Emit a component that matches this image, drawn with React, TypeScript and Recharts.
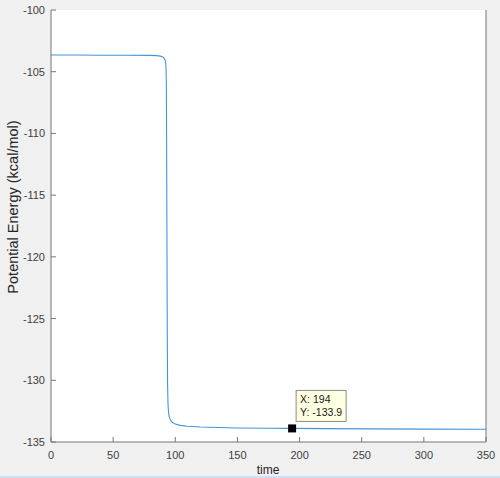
import { LineChart, Line, XAxis, YAxis, CartesianGrid, ReferenceDot } from "recharts";

// sampled from the plot (time vs potential energy)
const time = [
  0, 20, 40, 60, 80, 85, 88, 90, 91, 92, 92.5, 92.8, 93.0, 93.2, 93.4, 93.6,
  93.8, 94.1, 94.5, 95, 96, 97.5, 100, 104, 110, 120, 135, 150, 175, 194, 220,
  260, 300, 350,
];
const energy = [
  -103.65, -103.65, -103.66, -103.67, -103.68, -103.7, -103.74, -103.8, -103.9,
  -104.1, -104.5, -106, -110, -116, -122, -127, -130.3, -131.8, -132.5, -132.9,
  -133.2, -133.4, -133.55, -133.65, -133.72, -133.78, -133.83, -133.86, -133.89,
  -133.9, -133.92, -133.94, -133.96, -133.97,
];
const xTicks = [0, 50, 100, 150, 200, 250, 300, 350];
const yTicks = [-135, -130, -125, -120, -115, -110, -105, -100];
const tipIndex = 29; // datatip at time 194

const data = time.map((t, i) => ({ time: t, energy: energy[i] }));

const AXIS = "#767676";
const LABEL = "#404040";
const FONT = "'Liberation Sans', Arial, sans-serif";

const BottomTick = (p: any) => (
  <g>
    <line x1={p.x} y1={p.y} x2={p.x} y2={p.y - 5} stroke={AXIS} />
    <text x={p.x} y={p.y + 17} textAnchor="middle" fontSize={11} fill={LABEL} fontFamily={FONT}>
      {p.payload.value}
    </text>
  </g>
);
const TopTick = (p: any) => <line x1={p.x} y1={p.y} x2={p.x} y2={p.y + 5} stroke={AXIS} />;
const LeftTick = (p: any) => (
  <g>
    <line x1={p.x} y1={p.y} x2={p.x + 5} y2={p.y} stroke={AXIS} />
    <text x={p.x - 6} y={p.y + 4} textAnchor="end" fontSize={11} fill={LABEL} fontFamily={FONT}>
      {p.payload.value}
    </text>
  </g>
);
const RightTick = (p: any) => <line x1={p.x} y1={p.y} x2={p.x - 5} y2={p.y} stroke={AXIS} />;

const DataTip = (p: any) => {
  const { cx, cy } = p;
  return (
    <g>
      <rect x={cx - 4} y={cy - 4} width={8} height={8} fill="#000" />
      <rect x={cx + 4} y={cy - 38} width={50} height={31} fill="#ffffe1" stroke="#8a8a8a" />
      <text x={cx + 8} y={cy - 25} fontSize={10.5} fill="#1a1a1a" fontFamily={FONT}>
        {`X: ${time[tipIndex]}`}
      </text>
      <text x={cx + 8} y={cy - 12} fontSize={10.5} fill="#1a1a1a" fontFamily={FONT}>
        {`Y: ${energy[tipIndex]}`}
      </text>
    </g>
  );
};

export default function App() {
  return (
    <div
      style={{
        position: "absolute",
        left: 0,
        top: 0,
        width: 500,
        height: 478,
        background: "#f0f0f0",
        fontFamily: FONT,
      }}
    >
      <LineChart width={500} height={478} data={data} margin={{ top: 10, right: 0, left: 0, bottom: 0 }}>
        <CartesianGrid fill="#ffffff" horizontal={false} vertical={false} />
        <XAxis
          dataKey="time"
          type="number"
          domain={[0, 350]}
          ticks={xTicks}
          height={36}
          tickSize={0}
          tickMargin={0}
          stroke={AXIS}
          tick={BottomTick}
          interval={0}
        />
        <XAxis
          xAxisId="top"
          orientation="top"
          dataKey="time"
          type="number"
          domain={[0, 350]}
          ticks={xTicks}
          height={0}
          tickSize={0}
          tickMargin={0}
          stroke={AXIS}
          tick={TopTick}
          interval={0}
        />
        <YAxis
          type="number"
          domain={[-135, -100]}
          ticks={yTicks}
          width={51}
          tickSize={0}
          tickMargin={0}
          stroke={AXIS}
          tick={LeftTick}
          interval={0}
        />
        <YAxis
          yAxisId="right"
          orientation="right"
          type="number"
          domain={[-135, -100]}
          ticks={yTicks}
          width={14}
          tickSize={0}
          tickMargin={0}
          stroke={AXIS}
          tick={RightTick}
          interval={0}
        />
        <Line
          type="linear"
          dataKey="energy"
          stroke="#4395d8"
          strokeWidth={1.1}
          dot={false}
          isAnimationActive={false}
        />
        <ReferenceDot x={time[tipIndex]} y={energy[tipIndex]} shape={DataTip} />
      </LineChart>
      <div
        style={{
          position: "absolute",
          left: 13,
          top: 207,
          transform: "translate(-50%, -50%) rotate(-90deg)",
          fontSize: 14.5,
          lineHeight: "16px",
          color: "#262626",
          whiteSpace: "nowrap",
        }}
      >
        Potential Energy (kcal/mol)
      </div>
      <div
        style={{
          position: "absolute",
          left: 268,
          top: 470,
          transform: "translate(-50%, -50%)",
          fontSize: 12,
          color: "#262626",
        }}
      >
        time
      </div>
      <div style={{ position: "absolute", left: 0, top: 476, width: 500, height: 2, background: "#cfe0f0" }} />
    </div>
  );
}
